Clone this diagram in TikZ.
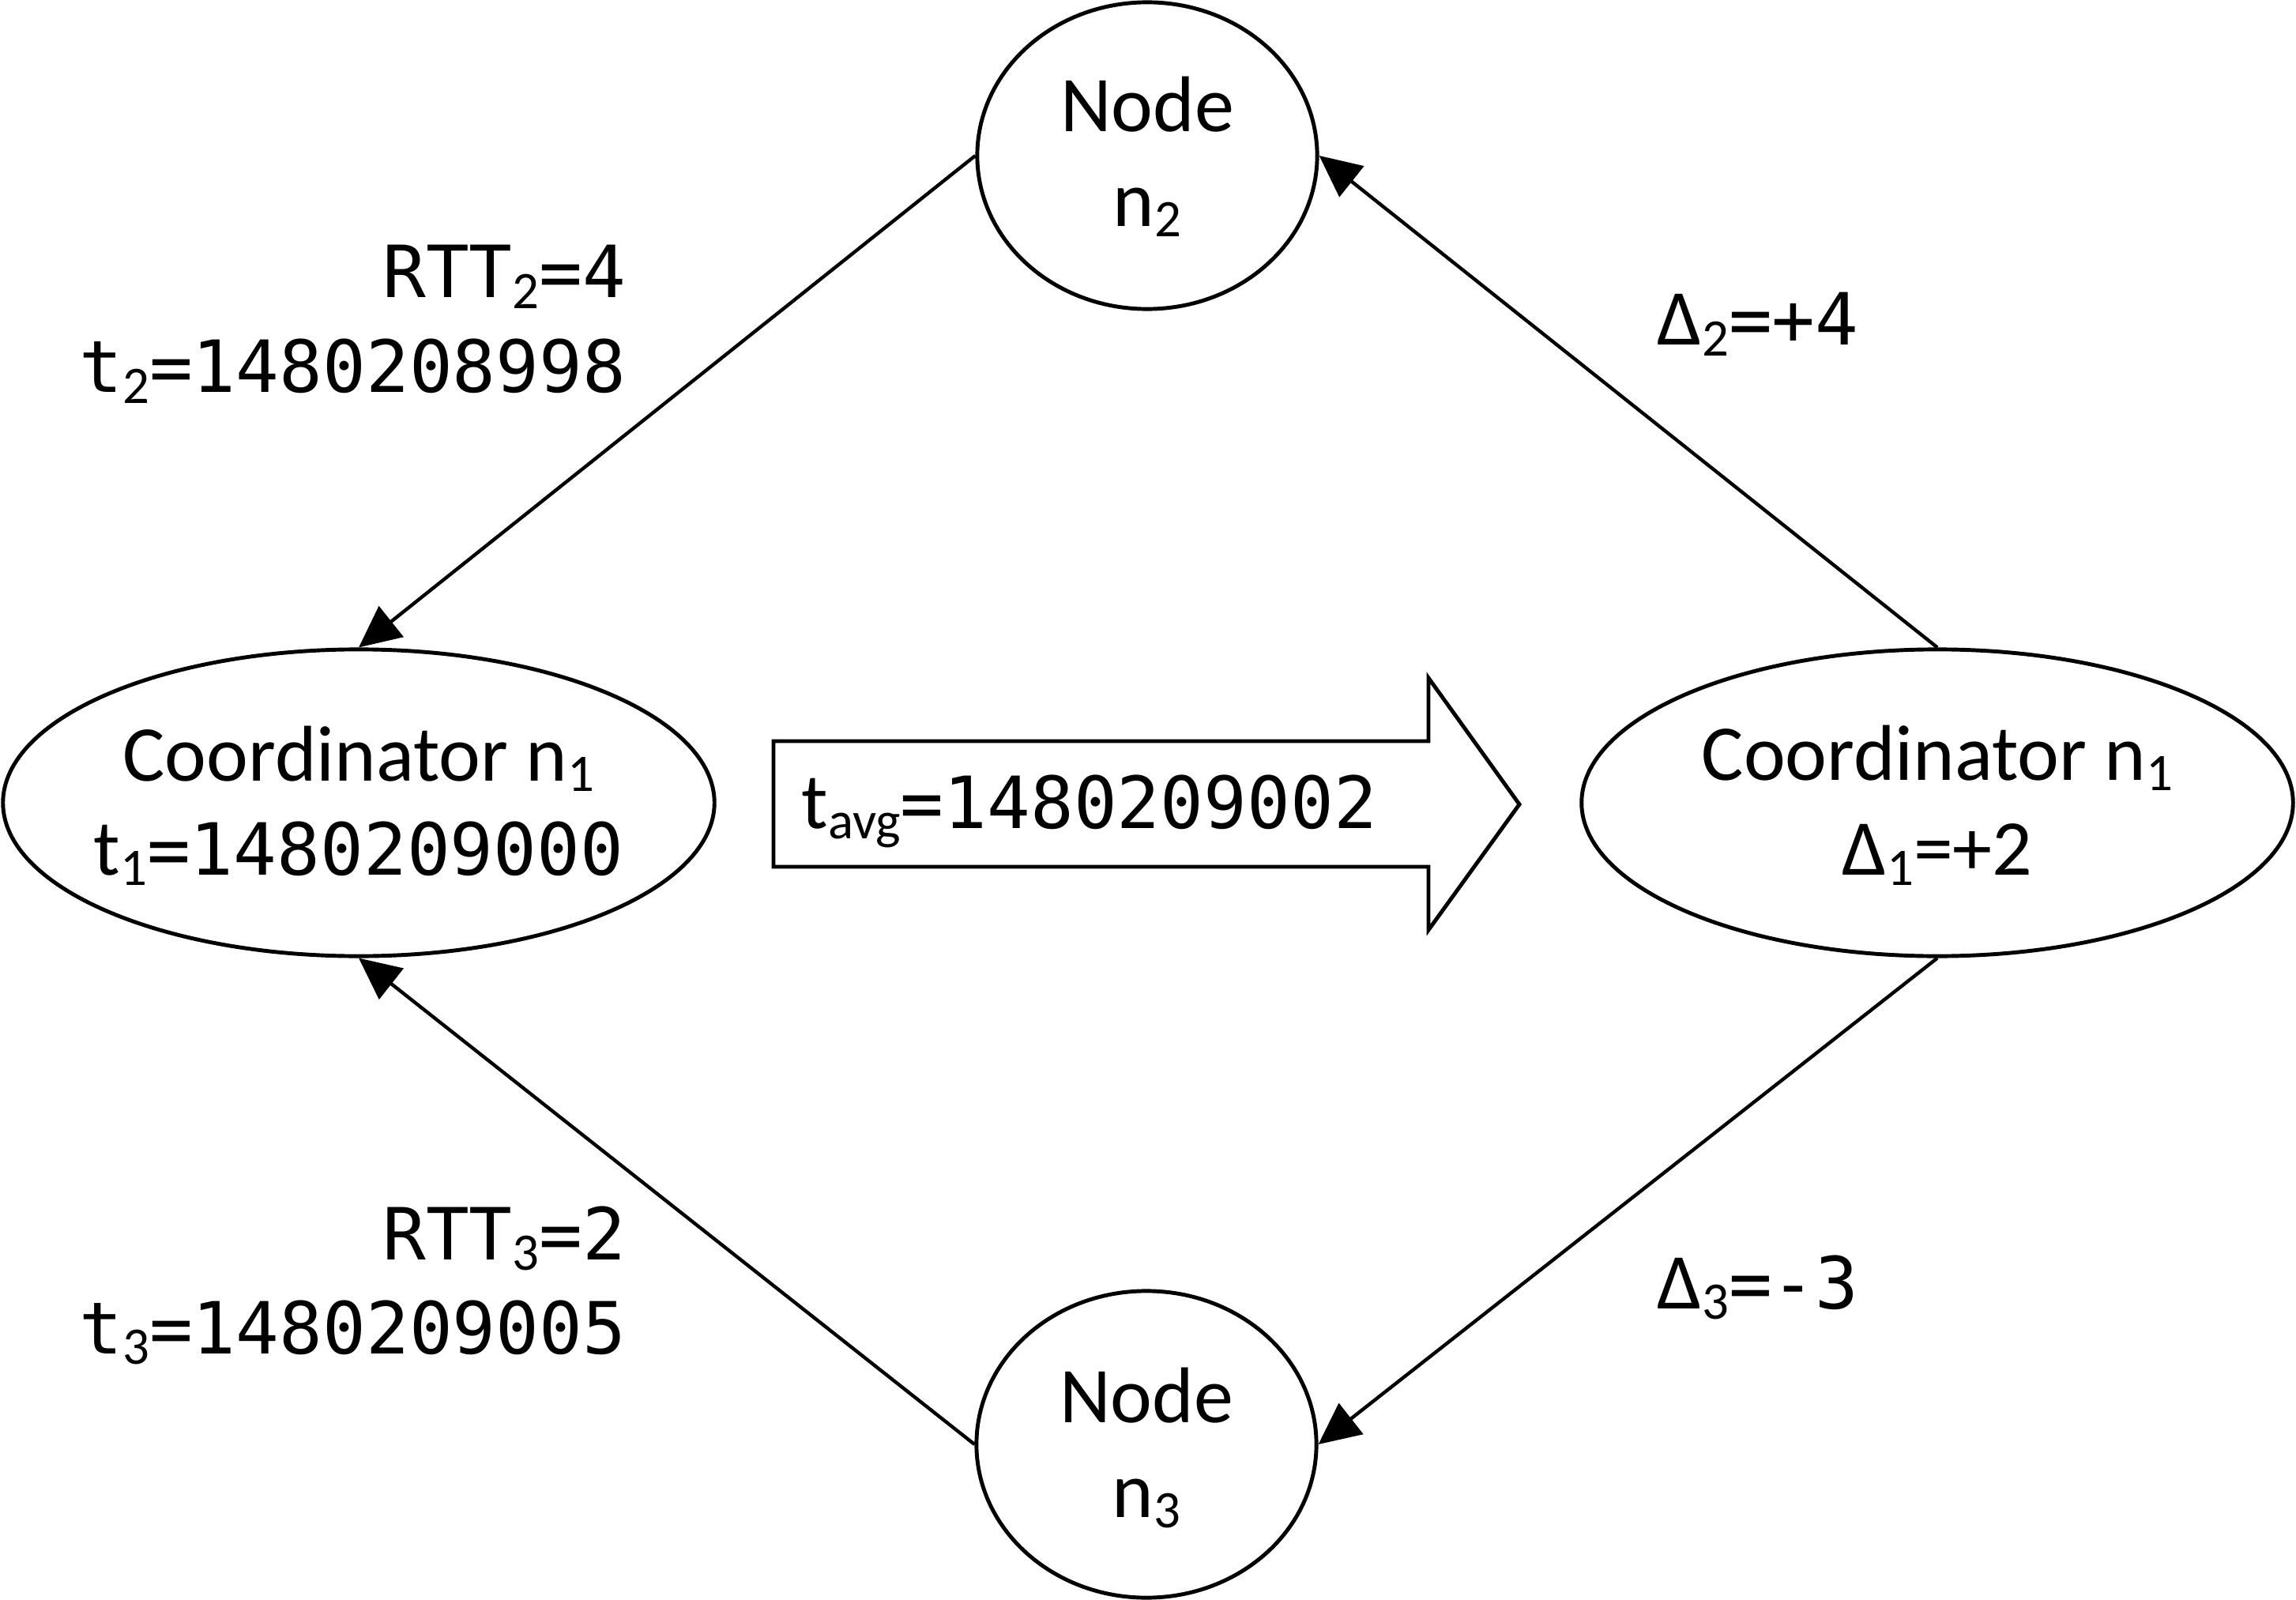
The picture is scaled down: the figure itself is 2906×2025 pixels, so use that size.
\documentclass[tikz,border=0pt]{standalone}
\usepackage{fontspec}
\setmainfont{Carlito}
\newfontfamily\monof{DejaVu Sans Mono}
\usetikzlibrary{arrows.meta,shapes.geometric}
\newcommand\calfont{\fontsize{28.45pt}{34pt}\selectfont}
\newcommand\monofont{\monof\fontsize{25.9pt}{34pt}\selectfont}
\newcommand\sbs[1]{\raisebox{-0.13\dimexpr28.45pt\relax}{\rmfamily\fontsize{19pt}{19pt}\selectfont #1}}
\begin{document}
\begin{tikzpicture}[x=0.01cm,y=-0.01cm,
  ell/.style={draw,ellipse,line width=1.4pt,inner sep=0pt},
  arr/.style={line width=1.25pt,-{Triangle[length=15pt,width=14pt]}},
  cal/.style={inner sep=0pt,font=\calfont},
  mono/.style={inner sep=0pt,font=\monofont}]
\useasboundingbox (0,0) rectangle (2906,2025);
% ellipses
\node[ell,minimum width=4.30cm,minimum height=3.88cm] (n2) at (1452,197) {};
\node[ell,minimum width=4.30cm,minimum height=3.88cm] (n3) at (1451,1828) {};
\node[ell,minimum width=9.00cm,minimum height=3.88cm] (c1) at (454,1016) {};
\node[ell,minimum width=9.00cm,minimum height=3.88cm] (c2) at (2452,1016) {};
% ellipse texts
\node[cal,anchor=base] (n2a) at (1452,167) {Node};
\node[cal,anchor=base] (n2b) at (1452,287) {n\sbs{2}};
\node[cal,anchor=base] (n3a) at (1451,1800) {Node};
\node[cal,anchor=base] (n3b) at (1451,1920) {n\sbs{3}};
\node[cal,anchor=base] (c1a) at (454,988) {Coordinator n\sbs{1}};
\node[cal,anchor=base] (c1b) at (454,1107) {t\sbs{1}{\monofont=1480209000}};
\node[cal,anchor=base] (c2a) at (2452,987) {Coordinator n\sbs{1}};
\node[cal,anchor=base] (c2b) at (2452,1107) {Δ\sbs{1}=+2};
% big arrow
\draw[line width=1.4pt,line join=miter] (979,938) -- (1808,938) -- (1808,858) -- (1923,1018) -- (1808,1177) -- (1808,1097) -- (979,1097) -- cycle;
\node[cal,anchor=base west] (tavg) at (1014,1048) {t\sbs{avg}{\monofont=1480209002}};
% side labels
\node[mono,anchor=base east] (r2) at (793,377) {RTT\sbs{2}=4};
\node[mono,anchor=base east] (t2) at (793,497) {t\sbs{2}=1480208998};
\node[mono,anchor=base east] (r3) at (793,1594) {RTT\sbs{3}=2};
\node[mono,anchor=base east] (t3) at (793,1713) {t\sbs{3}=1480209005};
\node[cal,anchor=base west] (d2) at (2097,437) {Δ\sbs{2}{\monofont=+4}};
\node[cal,anchor=base west] (d3) at (2097,1656) {Δ\sbs{3}{\monofont=-3}};
% connectors
\draw[arr] (n2.west) -- (c1.north);
\draw[arr] (c2.north) -- (n2.east);
\draw[arr] (c2.south) -- (n3.east);
\draw[arr] (n3.west) -- (c1.south);
\end{tikzpicture}
\end{document}
